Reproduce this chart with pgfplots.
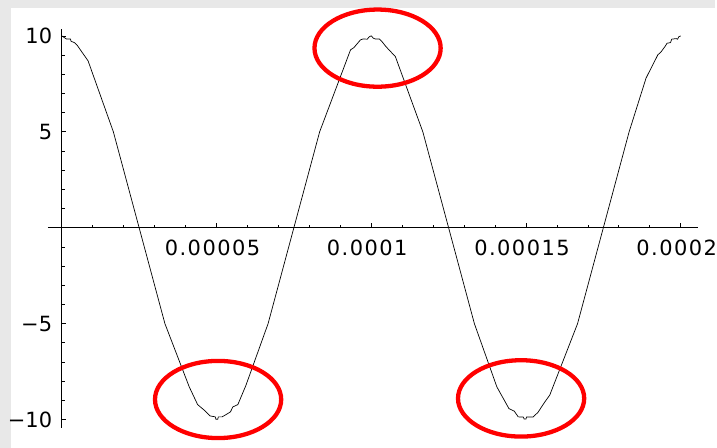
\documentclass[border=0pt]{standalone}
\usepackage{fontspec}
\setmainfont{DejaVu Sans}
\newfontfamily\tickfont[LetterSpace=7]{DejaVu Sans}
\usepackage{pgfplots}
\usepackage{pgfplotstable}
\pgfplotsset{compat=1.18}
\usetikzlibrary{calc,backgrounds}
\definecolor{framegray}{RGB}{232,232,232}

% sampled signal: time (s) and amplitude
\pgfplotstableread{
x y
0 10
1.5e-6 9.84
2.8e-6 9.84
3.0e-6 9.72
4.1e-6 9.65
4.9e-6 9.53
8.5e-6 8.70
1.667e-5 5.0
2.5e-5 0
3.333e-5 -5
4.12e-5 -8.3
4.39e-5 -9.22
4.61e-5 -9.52
4.79e-5 -9.81
4.96e-5 -9.86
4.98e-5 -9.98
5.04e-5 -9.98
5.06e-5 -9.86
5.18e-5 -9.86
5.31e-5 -9.74
5.45e-5 -9.6
5.53e-5 -9.34
5.69e-5 -9.22
5.95e-5 -8.22
6.667e-5 -5
7.5e-5 0
8.333e-5 5
9.33e-5 9.27
9.44e-5 9.39
9.65e-5 9.79
9.73e-5 9.84
9.87e-5 9.83
9.94e-5 9.96
1.0e-4 10.0
1.007e-4 9.88
1.0135e-4 9.84
1.0264e-4 9.84
1.0348e-4 9.70
1.0477e-4 9.44
1.078e-4 8.92
1.1667e-4 5
1.25e-4 0
1.3333e-4 -5
1.406e-4 -8.3
1.445e-4 -9.43
1.462e-4 -9.56
1.475e-4 -9.86
1.491e-4 -9.87
1.494e-4 -9.97
1.500e-4 -9.97
1.502e-4 -9.87
1.523e-4 -9.87
1.539e-4 -9.62
1.558e-4 -9.15
1.577e-4 -8.72
1.6667e-4 -5
1.75e-4 0
1.8333e-4 5
1.888e-4 7.80
1.926e-4 9.01
1.937e-4 9.18
1.949e-4 9.44
1.956e-4 9.62
1.967e-4 9.65
1.971e-4 9.83
1.985e-4 9.86
1.990e-4 9.83
1.994e-4 9.96
2.0e-4 10.0
}\signal

\begin{document}
\begin{tikzpicture}
\begin{axis}[
  name=ax,
  scale only axis,
  width=652pt, height=399.7pt,
  xmin=-4.5e-6, xmax=2.055e-4,
  ymin=-10.42, ymax=10.35,
  enlargelimits=false,
  axis lines=middle,
  axis line style={-, black, line width=0.8pt},
  every inner x axis line/.append style={-},
  every inner y axis line/.append style={-},
  xtick={0.00005,0.0001,0.00015,0.0002},
  xticklabels={0.00005,0.0001,0.00015,0.0002},
  minor xtick={0.00001,0.00002,0.00003,0.00004,0.00006,0.00007,0.00008,0.00009,0.00011,0.00012,0.00013,0.00014,0.00016,0.00017,0.00018,0.00019},
  ytick={-10,-5,5,10},
  yticklabels={−10,−5,5,10},
  minor ytick={-9,-8,-7,-6,-4,-3,-2,-1,1,2,3,4,6,7,8,9},
  tick align=inside,
  major tick length=4.5pt,
  minor tick length=3pt,
  tick style={black, line width=0.7pt},
  tick label style={font=\fontsize{21}{21}\selectfont, text=black},
  xticklabel style={font=\tickfont\fontsize{21}{21}\selectfont, anchor=north, inner sep=0pt, yshift=-12.5pt, xshift=-4pt},
  yticklabel style={anchor=east, inner sep=0pt, xshift=-9.5pt},
  scaled x ticks=false,
  clip=false,
]
\addplot[black, line width=0.7pt] table[x=x, y=y] {\signal};
\end{axis}
% frame behind the plot
\begin{scope}[on background layer]
  \fill[framegray] ($(ax.south west)+(-48pt,-20pt)$) rectangle ($(ax.south west)+(669pt,429pt)$);
  \fill[white] ($(ax.south west)+(-37pt,-20pt)$) rectangle ($(ax.south west)+(669pt,421pt)$);
\end{scope}
% highlighted extrema
\draw[red, line width=4.3pt] ($(ax.south west)+(330.8pt,380.7pt)$) ellipse [x radius=63.3pt, y radius=38.7pt];
\draw[red, line width=4.3pt] ($(ax.south west)+(170.8pt,28.2pt)$) ellipse [x radius=63.3pt, y radius=38.7pt];
\draw[red, line width=4.3pt] ($(ax.south west)+(474.8pt,29.3pt)$) ellipse [x radius=63.3pt, y radius=38.3pt];
\end{tikzpicture}
\end{document}
